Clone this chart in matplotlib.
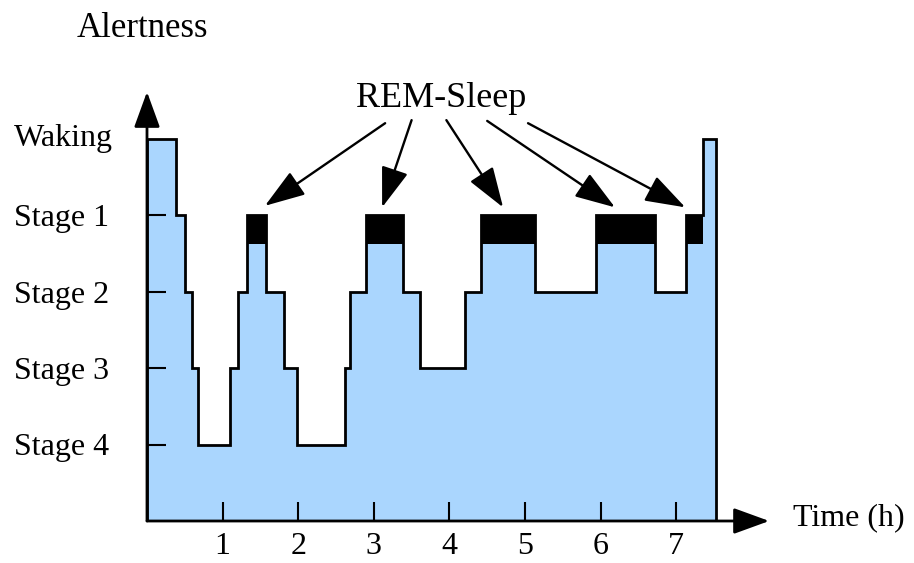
import matplotlib
matplotlib.use("Agg")
import matplotlib.pyplot as plt

# hypnogram: step edges in hours and the level held between them
# levels: 1 = Stage 4, 2 = Stage 3, 3 = Stage 2, 4 = Stage 1, 5 = Waking
edges = [0, 0.39, 0.50, 0.60, 0.68, 1.10, 1.20, 1.32, 1.58, 1.81, 1.98, 2.62,
         2.68, 2.90, 3.38, 3.61, 4.21, 4.42, 5.13, 5.94, 6.72, 7.13, 7.35, 7.52]
levels = [5, 4, 3, 2, 1, 2, 3, 4, 3, 2, 1, 2, 3, 4, 3, 2, 3, 4, 3, 4, 3, 4, 5]

# REM periods (black bands on top of Stage 1)
rem_start = [1.32, 2.90, 4.42, 5.94, 7.13]
rem_end = [1.58, 3.38, 5.13, 6.72, 7.35]
rem_top = 4.0
rem_depth = 0.38

stage_names = ["Stage 4", "Stage 3", "Stage 2", "Stage 1", "Waking"]
stage_levels = [1, 2, 3, 4, 5]
hours = [1, 2, 3, 4, 5, 6, 7]

# REM-Sleep label arrows: (tail) -> (head)
arrow_tails = [(3.15, 5.20), (3.50, 5.24), (3.96, 5.24), (4.50, 5.23), (5.04, 5.20)]
arrow_heads = [(1.56, 4.12), (3.11, 4.10), (4.71, 4.10), (6.19, 4.10), (7.12, 4.10)]

fill_color = "#aad6fe"
serif = "Liberation Serif"

fig = plt.figure(figsize=(9.14, 5.63), dpi=100)
ax = fig.add_axes([0, 0, 1, 1])
ax.set_xlim(-147 / 75.6, (914 - 147) / 75.6)
ax.set_ylim(-42 / 76.5, 521 / 76.5)

ax.stairs(levels, edges, baseline=0, fill=True, color=fill_color, zorder=1)
ax.stairs(levels, edges, baseline=0, fill=False, color="black", lw=2.0, zorder=3)

widths = [e - s for s, e in zip(rem_start, rem_end)]
ax.bar(rem_start, [rem_depth] * len(rem_start), width=widths,
       bottom=rem_top - rem_depth, align="edge", color="black", zorder=4)

for sp in ax.spines.values():
    sp.set_visible(False)
ax.spines["left"].set_position(("data", 0))
ax.spines["bottom"].set_position(("data", 0))

# axes with arrow heads
axis_style = dict(arrowstyle="-|>,head_length=2.2,head_width=0.8", lw=2.0,
                  color="black", shrinkA=0, shrinkB=0, mutation_scale=10)
ax.annotate("", xy=(0, 5.61), xytext=(0, 0), arrowprops=axis_style, zorder=5)
ax.annotate("", xy=(8.23, 0), xytext=(0, 0), arrowprops=axis_style, zorder=5)

ax.set_xticks(hours)
ax.set_xticklabels([str(h) for h in hours], fontsize=23, family=serif)
ax.set_yticks(stage_levels[:4])
ax.set_yticklabels(stage_names[:4], fontsize=23, family=serif, ha="left")
ax.tick_params(axis="x", direction="in", length=14, width=1.5, pad=8)
ax.tick_params(axis="y", direction="in", length=14, width=1.5, pad=96)
ax.text(-1.76, 5.0, stage_names[4], fontsize=23, family=serif,
        ha="left", va="center")

ax.text(-0.93, 6.44, "Alertness", fontsize=25, family=serif, ha="left", va="center")
ax.text(8.55, 0.04, "Time (h)", fontsize=23, family=serif, ha="left", va="center")
ax.text(3.89, 5.52, "REM-Sleep", fontsize=26, family=serif, ha="center", va="center")

rem_style = dict(arrowstyle="-|>,head_length=2.5,head_width=0.85", lw=1.7,
                 color="black", shrinkA=0, shrinkB=0, mutation_scale=10)
for tail, head in zip(arrow_tails, arrow_heads):
    ax.annotate("", xy=head, xytext=tail, arrowprops=rem_style, zorder=5)

fig.savefig("out.png", dpi=100)
